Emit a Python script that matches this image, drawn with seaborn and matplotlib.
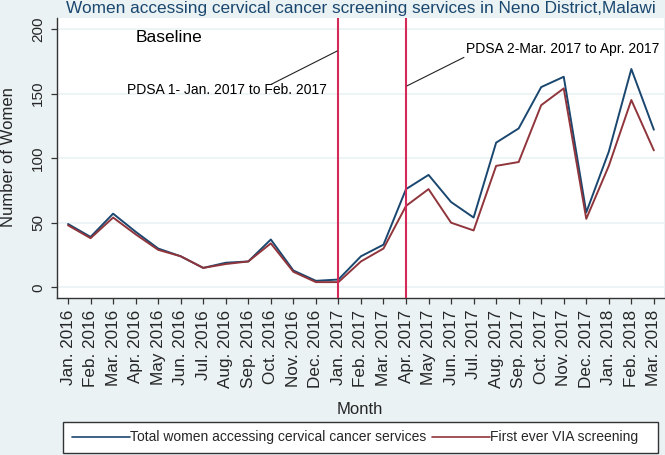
import matplotlib
matplotlib.use("Agg")
import matplotlib.pyplot as plt
from matplotlib.patches import Rectangle
import seaborn as sns
import pandas as pd
import numpy as np

months = ["Jan. 2016", "Feb. 2016", "Mar. 2016", "Apr. 2016", "May 2016", "Jun. 2016",
          "Jul. 2016", "Aug. 2016", "Sep. 2016", "Oct. 2016", "Nov. 2016", "Dec. 2016",
          "Jan. 2017", "Feb. 2017", "Mar. 2017", "Apr. 2017", "May 2017", "Jun. 2017",
          "Jul. 2017", "Aug. 2017", "Sep. 2017", "Oct. 2017", "Nov. 2017", "Dec. 2017",
          "Jan. 2018", "Feb. 2018", "Mar. 2018"]
total_women = [49, 39, 57, 43, 30, 24, 15, 19, 20, 37, 13, 5,
               6, 24, 33, 76, 87, 66, 54, 112, 123, 155, 163, 58,
               105, 169, 122]
first_via = [48, 38, 54, 41, 29, 24, 15, 18, 20, 34, 12, 4,
             4, 20, 30, 63, 76, 50, 44, 94, 97, 141, 154, 53,
             94, 145, 106]
series_names = ["Total women accessing cervical cancer services", "First ever VIA screening"]
y_ticks = [0, 50, 100, 150, 200]

BG = "#EAF2F3"
BLUE = "#1A476F"
RED = "#90353B"
VLINE = "#D42A57"

sns.set_theme(style="white")
plt.rcParams['font.family'] = ['Liberation Sans', 'DejaVu Sans']

W, H = 665, 455
idx = np.arange(len(months))
df = pd.DataFrame({
    "Month": np.concatenate([idx, idx]),
    "Number of Women": total_women + first_via,
    "Series": [series_names[0]] * len(months) + [series_names[1]] * len(months),
})

fig = plt.figure(figsize=(6.65, 4.55), dpi=100, facecolor=BG)
ax = fig.add_axes([57 / W, 1 - 298 / H, (664 - 57) / W, (298 - 18) / H])
ax.set_facecolor("white")

for v in y_ticks:
    ax.axhline(v, color=BG, lw=1.2, zorder=0)

sns.lineplot(data=df, x="Month", y="Number of Women", hue="Series",
             palette=[BLUE, RED], hue_order=series_names, lw=1.4, ax=ax,
             legend=False, zorder=3)

ax.axvline(12, color=VLINE, lw=1.5, zorder=4)
ax.axvline(15, color=VLINE, lw=1.5, zorder=4)

ax.set_xlim(-0.49, 26.45)
ax.set_ylim(-8.3, 208.5)
ax.set_xticks(idx)
ax.set_xticklabels(months, rotation=90, fontsize=12.3)
ax.set_yticks(y_ticks)
ax.set_yticklabels([str(v) for v in y_ticks], rotation=90, va="center", fontsize=11)
ax.tick_params(axis="both", direction="out", length=4, width=0.9, color="#333333",
               bottom=True, left=True, pad=4.5)

for s in ["top", "right"]:
    ax.spines[s].set_visible(False)
for s in ["left", "bottom"]:
    ax.spines[s].set_color("#333333")
    ax.spines[s].set_linewidth(1.0)

ax.set_xlabel("")
ax.set_ylabel("")
fig.text(360 / W, 1 - 409 / H, "Month", fontsize=12, ha="center", va="center")
fig.text(9 / W, 1 - 157 / H, "Number of Women", fontsize=12, ha="center", va="center", rotation=90)

ax.text(3.0, 193.5, "Baseline", fontsize=12.5, ha="left", va="center", color="black")
ax.text(2.6, 153, "PDSA 1- Jan. 2017 to Feb. 2017", fontsize=10, ha="left", va="center", color="black", zorder=5)
ax.plot([9.0, 11.95], [157, 183], color="#222222", lw=0.8, zorder=5)
ax.text(17.65, 184.5, "PDSA 2-Mar. 2017 to Apr. 2017", fontsize=10, ha="left", va="center", color="black", zorder=5)
ax.plot([17.57, 15.05], [178, 156], color="#222222", lw=0.8, zorder=5)

title = fig.text(66 / W, 1 - 12.5 / H,
                 "Women accessing cervical cancer screening services in Neno District,Malawi",
                 ha="left", va="baseline", fontsize=12, color=BLUE)
renderer = fig.canvas.get_renderer()
tw = title.get_window_extent(renderer).width
title.set_fontsize(12 * 589 / tw)

# legend box
fig.patches.append(Rectangle((63 / W, 1 - 453 / H), (658 - 63) / W, (453 - 422) / H,
                             transform=fig.transFigure, facecolor="white",
                             edgecolor="#333333", lw=1.0, zorder=1))
handles = [plt.Line2D([], [], color=BLUE, lw=1.2), plt.Line2D([], [], color=RED, lw=1.2)]
leg = fig.legend(handles, series_names, loc="center", ncol=2,
                 bbox_to_anchor=(355 / W, 1 - 437.5 / H), fontsize=10,
                 frameon=False, handlelength=4.2, handletextpad=0.0, columnspacing=0.4)

fig.savefig("out.png", dpi=100, facecolor=BG)
